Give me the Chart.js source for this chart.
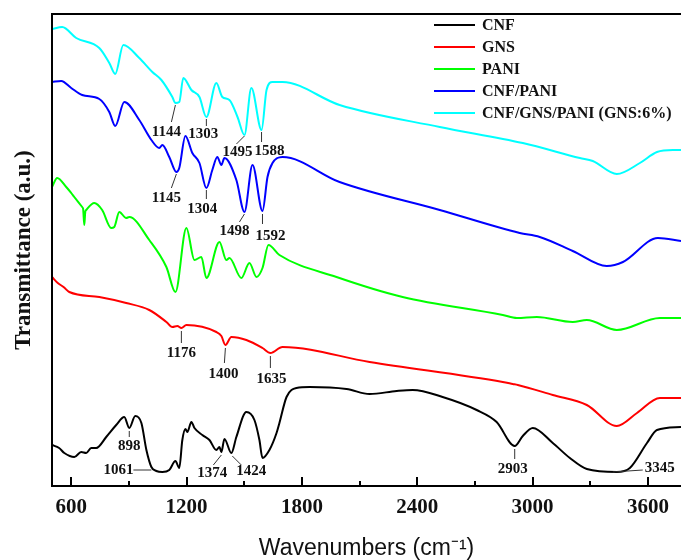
<!DOCTYPE html>
<html>
<head>
<meta charset="utf-8">
<script src="https://cdn.jsdelivr.net/npm/chart.js@4.4.1/dist/chart.umd.min.js"></script>
<style>
  body { margin: 0; background: #fff; }
  #wrap { width: 681px; height: 560px; }
</style>
</head>
<body>
<div id="wrap"><canvas id="ftir"></canvas></div>
<script>
// spectra, wavenumber (cm-1) vs transmittance (a.u., offset stacked)
const cnfWave = [500,537,564,616,652,678,704,730,782,834,876,902,933,965,991,1017,1043,1074,1110,1142,1162,1178,1194,1204,1225,1241,1282,1319,1355,1371,1381,1397,1433,1459,1511,1553,1579,1595,1631,1668,1683,1720,1772,1840,2032,2152,2293,2376,2532,2709,2813,2907,2949,3001,3105,3194,3282,3438,3506,3595,3647,3772];
const cnfT = [41,38,33,29,34,33,38,38,49,61,69,58,70,63,36,19,15,14,16,25,18,46,57,54,64,58,51,46,36,39,34,47,33,49,74,66,46,28,36,53,63,89,98,99,97,92,95,96,89,76,64,40,50,58,43,28,17,14,18,43,56,59];

const gnsWave = [500,530,560,590,746,886,1006,1095,1126,1152,1173,1199,1355,1381,1402,1433,1511,1595,1636,1699,2152,2845,2897,2923,3105,3282,3438,3543,3662,3772];
const gnsT = [209,203,199,194,189,183,176,164,159,160,158,161,154,150,141,149,146,138,133,139,124,104,102,101,91,81,60,73,88,88];

const paniWave = [500,527,574,600,616,657,662,668,673,678,720,761,808,824,850,886,902,1006,1095,1142,1199,1241,1277,1303,1371,1407,1423,1485,1527,1564,1595,1626,1683,1980,2324,2845,2918,3022,3209,3282,3438,3662,3772];
const paniT = [299,308,299,293,289,279,277,261,274,276,283,276,258,259,274,268,269,246,219,194,258,226,229,208,244,226,228,208,223,209,218,241,231,209,189,171,168,169,164,166,156,168,168];

const cpWave = [500,548,600,657,746,798,829,876,954,1017,1058,1074,1110,1147,1162,1194,1230,1267,1303,1334,1360,1381,1397,1459,1501,1543,1595,1621,1647,1699,1996,2517,2933,3037,3209,3386,3470,3652,3772];
const cpT = [404,405,398,391,387,374,360,384,366,346,338,341,329,314,318,350,333,323,298,316,329,321,328,306,274,321,275,309,323,329,304,276,253,249,235,220,224,248,245];

const cgpWave = [500,553,626,746,798,829,871,954,1022,1069,1126,1142,1162,1183,1225,1267,1303,1355,1386,1423,1465,1501,1537,1590,1616,1647,1699,1996,2517,2949,3246,3313,3438,3558,3647,3730,3772];
const cgpT = [457,459,448,438,423,412,441,428,414,406,389,383,384,408,396,389,369,403,389,386,369,351,398,356,396,404,404,381,359,343,328,325,312,323,334,336,336];

const seriesNames = ['CNF', 'GNS', 'PANI', 'CNF/PANI', 'CNF/GNS/PANI (GNS:6%)'];
const xMajorTicks = [600, 1200, 1800, 2400, 3000, 3600];
const xMinorTicks = [900, 1500, 2100, 2700, 3300];

// peak labels: text, anchor on the curve (w, T)
const peakText = ['1144','1303','1495','1588','1145','1304','1498','1592','1176','1400','1635','898','1061','1374','1424','2903','3345'];
const peakWave = [1142,1303,1501,1590,1147,1303,1501,1595,1173,1402,1636,902,1017,1381,1438,2907,3417];
const peakT = [381,367,350,354,312,296,272,272,155,138,130,55,16,31,30,37,14];

// leader line end and text centre, pixel offsets from the anchor
const peakOffsets = [
    [-4, 17, -9, 27], [0, 7, -3, 15], [-8, 8, -7, 16], [0, 10, 8, 19],
    [-5, 14, -10, 24], [0, 9, -4, 19], [-5, 8, -10, 17], [0, 10, 8, 22],
    [0, 12, 0, 22], [-1, 15, -2, 26], [0, 12, 1, 23],
    [0, 6, 0, 15], [-18, 0, -33, 0], [-8, 10, -9, 18], [9, 9, 19, 15],
    [0, 10, -2, 20], [30, -2, 47, -4]
];

const colors = ['#000000', '#ff0000', '#00ff00', '#0000ff', '#00ffff'];

function pts(w, t) {
    return w.map((x, i) => ({ x: x, y: t[i] }));
}

const serif = 'Liberation Serif, Times New Roman, serif';

const decorPlugin = {
    id: 'decor',
    afterDatasetsDraw(chart) {
        const ctx = chart.ctx;
        const a = chart.chartArea;
        const xs = chart.scales.x;
        const ys = chart.scales.y;

        ctx.save();
        ctx.strokeStyle = '#000';
        ctx.lineWidth = 2;

        // inward ticks on the bottom axis
        ctx.beginPath();
        xMajorTicks.forEach(v => {
            const px = Math.round(xs.getPixelForValue(v));
            ctx.moveTo(px, a.bottom);
            ctx.lineTo(px, a.bottom - 9);
        });
        xMinorTicks.forEach(v => {
            const px = Math.round(xs.getPixelForValue(v));
            ctx.moveTo(px, a.bottom);
            ctx.lineTo(px, a.bottom - 5);
        });
        ctx.stroke();

        // frame: top, left, bottom (right side falls off the picture)
        ctx.beginPath();
        ctx.moveTo(a.right, a.top);
        ctx.lineTo(a.left, a.top);
        ctx.lineTo(a.left, a.bottom);
        ctx.lineTo(a.right, a.bottom);
        ctx.stroke();

        // peak labels
        ctx.lineWidth = 1;
        ctx.strokeStyle = '#333';
        ctx.fillStyle = '#111';
        ctx.font = 'bold 15px ' + serif;
        ctx.textAlign = 'center';
        ctx.textBaseline = 'middle';
        peakText.forEach((t, i) => {
            const px = xs.getPixelForValue(peakWave[i]);
            const py = ys.getPixelForValue(peakT[i]);
            const o = peakOffsets[i];
            ctx.beginPath();
            ctx.moveTo(px, py);
            ctx.lineTo(px + o[0], py + o[1]);
            ctx.stroke();
            ctx.fillText(t, px + o[2], py + o[3]);
        });

        // legend
        ctx.font = 'bold 16px ' + serif;
        ctx.textAlign = 'left';
        ctx.lineWidth = 2;
        chart.data.datasets.forEach((ds, i) => {
            const y = 25 + i * 22;
            ctx.strokeStyle = ds.borderColor;
            ctx.beginPath();
            ctx.moveTo(434, y);
            ctx.lineTo(475, y);
            ctx.stroke();
            ctx.fillStyle = '#111';
            ctx.fillText(ds.label, 482, y + 1);
        });
        ctx.restore();
    }
};

const datasets = [
    pts(cnfWave, cnfT),
    pts(gnsWave, gnsT),
    pts(paniWave, paniT),
    pts(cpWave, cpT),
    pts(cgpWave, cgpT)
].map((d, i) => ({
    label: seriesNames[i],
    data: d,
    borderColor: colors[i],
    borderWidth: 2,
    pointRadius: 0,
    cubicInterpolationMode: 'monotone',
    fill: false
}));

new Chart(document.getElementById('ftir'), {
    type: 'line',
    data: { datasets: datasets },
    options: {
        responsive: true,
        maintainAspectRatio: false,
        animation: false,
        layout: { padding: { top: 14, left: 0, right: 0, bottom: 0 } },
        plugins: {
            legend: { display: false },
            tooltip: { enabled: false }
        },
        scales: {
            x: {
                type: 'linear',
                min: 500,
                max: 3772,
                afterBuildTicks: scale => {
                    scale.ticks = xMajorTicks.concat(xMinorTicks)
                        .sort((p, q) => p - q)
                        .map(v => ({ value: v }));
                },
                afterFit: scale => { scale.height = 74; },
                grid: { display: false, drawTicks: false },
                border: { display: false },
                ticks: {
                    autoSkip: false,
                    maxRotation: 0,
                    padding: 9,
                    color: '#111',
                    font: { family: serif, size: 21, weight: 'bold' },
                    callback: v => xMajorTicks.includes(v) ? String(v) : ''
                },
                title: {
                    display: true,
                    text: 'Wavenumbers (cm\u207B\u00B9)',
                    color: '#111',
                    font: { family: 'Liberation Sans, Arial, sans-serif', size: 23, lineHeight: 1 },
                    padding: { top: 0, bottom: 0 }
                }
            },
            y: {
                min: 0,
                max: 472,
                afterFit: scale => { scale.width = 52; },
                grid: { display: false, drawTicks: false },
                border: { display: false },
                ticks: { display: false },
                title: {
                    display: true,
                    text: 'Transmittance (a.u.)',
                    color: '#111',
                    font: { family: serif, size: 23, weight: 'bold', lineHeight: 1 },
                    padding: { top: 13, bottom: 0 }
                }
            }
        }
    },
    plugins: [decorPlugin]
});
</script>
</body>
</html>
